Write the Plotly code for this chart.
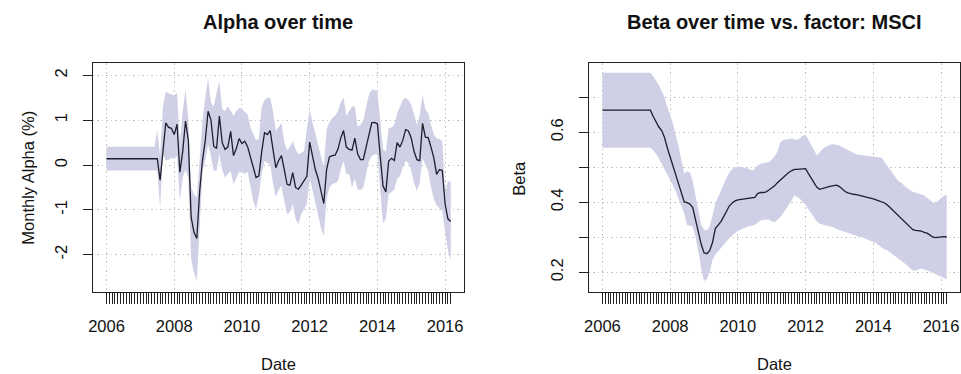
import numpy as np
import plotly.graph_objects as go

# Monthly observations, Jan 2006 .. Mar 2016 (rows are calendar years)
alpha = [
    0.14, 0.14, 0.14, 0.14, 0.14, 0.14, 0.14, 0.14, 0.14, 0.14, 0.14, 0.14,
    0.14, 0.14, 0.14, 0.14, 0.14, 0.14, 0.14, -0.34, 0.35, 0.94, 0.84, 0.82,
    0.68, 0.91, -0.16, 0.30, 0.98, 0.55, -1.17, -1.50, -1.64, -0.60, 0.10, 0.55,
    1.20, 1.01, 0.42, 0.37, 1.09, 0.50, 0.35, 0.40, 0.75, 0.21, 0.37, 0.59,
    0.48, 0.53, 0.41, 0.20, -0.05, -0.28, -0.24, 0.30, 0.72, 0.68, 0.77, 0.35,
    -0.06, 0.10, 0.21, -0.10, -0.43, -0.45, -0.17, -0.50, -0.54, -0.45, -0.35, -0.25,
    0.51, 0.20, -0.10, -0.30, -0.60, -0.86, -0.10, 0.18, 0.21, 0.22, 0.35, 0.60,
    0.77, 0.40, 0.35, 0.33, 0.60, 0.25, 0.12, 0.12, 0.40, 0.66, 0.94, 0.95,
    0.92, 0.20, -0.47, -0.60, 0.09, 0.15, 0.10, 0.50, 0.40, 0.55, 0.79, 0.76,
    0.60, 0.30, 0.12, 0.10, 0.93, 0.62, 0.61, 0.40, 0.16, -0.21, -0.10, -0.12,
    -0.87, -1.20, -1.26,
]
alpha_upper = [
    0.41, 0.41, 0.41, 0.41, 0.41, 0.41, 0.41, 0.41, 0.41, 0.41, 0.41, 0.41,
    0.41, 0.41, 0.41, 0.41, 0.41, 0.41, 0.78, 0.20, 1.30, 1.64, 1.60, 1.58,
    1.55, 1.62, 0.50, 1.20, 1.68, 1.00, -0.50, -0.65, -0.72, 0.10, 1.00, 1.50,
    1.94, 1.40, 1.30, 1.60, 1.87, 1.25, 1.20, 1.31, 1.20, 1.10, 1.20, 1.27,
    1.25, 1.20, 1.13, 0.85, 0.70, 0.55, 0.60, 1.30, 1.45, 1.50, 1.50, 1.20,
    0.76, 0.85, 0.94, 0.50, 0.33, 0.40, 0.53, 0.35, 0.24, 0.27, 0.31, 0.80,
    1.24, 0.95, 0.70, 0.46, 0.20, -0.05, 0.80, 0.95, 1.05, 1.10, 1.20, 1.40,
    1.50, 1.10, 1.20, 1.30, 1.31, 0.85, 0.90, 0.98, 1.30, 1.57, 1.68, 1.68,
    1.64, 0.90, 0.35, 0.30, 0.83, 0.83, 0.90, 1.15, 1.30, 1.45, 1.50, 1.45,
    1.35, 1.10, 0.90, 1.10, 1.57, 1.25, 1.15, 0.90, 0.68, 0.60, 0.58, 0.53,
    -0.60, -0.35, -0.39,
]
alpha_lower = [
    -0.12, -0.12, -0.12, -0.12, -0.12, -0.12, -0.12, -0.12, -0.12, -0.12, -0.12, -0.12,
    -0.12, -0.12, -0.12, -0.12, -0.12, -0.12, -0.12, -0.95, 0.24, 0.10, 0.12, 0.16,
    0.15, 0.20, -0.80, -0.28, -0.10, -0.30, -2.10, -2.40, -2.58, -1.40, -0.15, 0.10,
    0.46, 0.20, -0.13, -0.13, 0.24, -0.10, -0.28, -0.20, -0.13, -0.43, -0.30, -0.15,
    -0.15, -0.20, -0.15, -0.50, -0.80, -0.98, -0.65, -0.20, 0.09, 0.05, 0.01, -0.40,
    -0.72, -0.55, -0.47, -0.80, -1.10, -1.05, -0.87, -1.20, -1.32, -1.10, -1.00, -0.87,
    -0.28, -0.55, -0.80, -1.10, -1.40, -1.58, -0.75, -0.50, -0.43, -0.40, -0.36, -0.10,
    0.09, -0.20, -0.20, -0.50, -0.30, -0.55, -0.55, -0.50, -0.20, 0.09, 0.20, 0.24,
    0.24, -0.60, -1.30, -1.20, -0.65, -0.60, -0.55, -0.30, -0.25, -0.05, 0.09, 0.05,
    -0.13, -0.40, -0.58, -0.40, 0.16, 0.00, -0.13, -0.50, -0.75, -0.90, -0.95, -1.02,
    -1.50, -1.90, -2.13,
]

beta = [
    0.663, 0.663, 0.663, 0.663, 0.663, 0.663, 0.663, 0.663, 0.663, 0.663, 0.663, 0.663,
    0.663, 0.663, 0.663, 0.663, 0.663, 0.663, 0.645, 0.628, 0.615, 0.605, 0.585, 0.555,
    0.530, 0.505, 0.482, 0.455, 0.430, 0.401, 0.399, 0.395, 0.385, 0.350, 0.310, 0.280,
    0.256, 0.253, 0.262, 0.285, 0.325, 0.335, 0.345, 0.360, 0.375, 0.390, 0.398, 0.404,
    0.407, 0.408, 0.409, 0.410, 0.410, 0.412, 0.414, 0.425, 0.428, 0.428, 0.430, 0.435,
    0.440, 0.447, 0.456, 0.464, 0.472, 0.479, 0.485, 0.490, 0.494, 0.494, 0.495, 0.495,
    0.496, 0.482, 0.469, 0.455, 0.443, 0.437, 0.440, 0.443, 0.444, 0.446, 0.448, 0.449,
    0.445, 0.438, 0.431, 0.427, 0.424, 0.423, 0.422, 0.420, 0.419, 0.418, 0.415, 0.412,
    0.410, 0.407, 0.404, 0.401, 0.398, 0.392, 0.384, 0.376, 0.368, 0.360, 0.352, 0.343,
    0.335, 0.327, 0.322, 0.320, 0.320, 0.318, 0.314, 0.312, 0.307, 0.301, 0.299, 0.300,
    0.303, 0.302, 0.301,
]
beta_upper = [
    0.770, 0.770, 0.770, 0.770, 0.770, 0.770, 0.770, 0.770, 0.770, 0.770, 0.770, 0.770,
    0.770, 0.770, 0.770, 0.770, 0.770, 0.770, 0.760, 0.749, 0.735, 0.718, 0.700, 0.672,
    0.650, 0.625, 0.590, 0.560, 0.520, 0.482, 0.488, 0.485, 0.460, 0.415, 0.370, 0.335,
    0.322, 0.320, 0.330, 0.365, 0.395, 0.415, 0.435, 0.455, 0.470, 0.485, 0.495, 0.500,
    0.502, 0.501, 0.500, 0.498, 0.495, 0.490, 0.495, 0.505, 0.510, 0.512, 0.513, 0.515,
    0.522, 0.530, 0.545, 0.570, 0.578, 0.580, 0.582, 0.582, 0.580, 0.578, 0.583, 0.590,
    0.594, 0.580, 0.563, 0.548, 0.534, 0.542, 0.552, 0.558, 0.562, 0.565, 0.566, 0.565,
    0.562, 0.557, 0.553, 0.548, 0.543, 0.539, 0.537, 0.536, 0.535, 0.534, 0.532, 0.531,
    0.529, 0.528, 0.527, 0.527, 0.515, 0.503, 0.491, 0.480, 0.470, 0.460, 0.455, 0.447,
    0.440, 0.435, 0.430, 0.428, 0.425, 0.422, 0.420, 0.413, 0.405, 0.400, 0.398, 0.405,
    0.410, 0.418, 0.422,
]
beta_lower = [
    0.556, 0.556, 0.556, 0.556, 0.556, 0.556, 0.556, 0.556, 0.556, 0.556, 0.556, 0.556,
    0.556, 0.556, 0.556, 0.556, 0.556, 0.556, 0.548, 0.539, 0.525, 0.510, 0.496, 0.480,
    0.465, 0.449, 0.430, 0.410, 0.390, 0.368, 0.335, 0.334, 0.330, 0.300, 0.260, 0.210,
    0.175, 0.180, 0.200, 0.235, 0.250, 0.260, 0.270, 0.280, 0.290, 0.298, 0.305, 0.312,
    0.318, 0.322, 0.326, 0.330, 0.332, 0.333, 0.335, 0.342, 0.348, 0.350, 0.350, 0.351,
    0.345, 0.344, 0.350, 0.357, 0.368, 0.380, 0.390, 0.405, 0.420, 0.415, 0.410, 0.400,
    0.393, 0.380, 0.368, 0.357, 0.345, 0.339, 0.337, 0.335, 0.334, 0.331, 0.328, 0.324,
    0.320, 0.318, 0.315, 0.312, 0.309, 0.306, 0.304, 0.302, 0.300, 0.297, 0.294, 0.290,
    0.287, 0.283, 0.277, 0.270, 0.265, 0.263, 0.257, 0.250, 0.244, 0.238, 0.234, 0.228,
    0.220, 0.212, 0.205, 0.205, 0.208, 0.211, 0.208, 0.205, 0.204, 0.200, 0.195, 0.191,
    0.188, 0.184, 0.180,
]

year_labels = ["2006", "2008", "2010", "2012", "2014", "2016"]
alpha_ticks = ["-2", "-1", "0", "1", "2"]
beta_ticks = ["0.2", "", "0.4", "", "0.6", ""]

# decimal-year time index, one entry per month
t = 2006 + np.arange(len(alpha)) / 12.0
year_vals = [float(y) for y in year_labels]

FONT = "Liberation Sans, Arial, Helvetica, sans-serif"
BAND = "#cfcfe6"
LINE = "#1e1e2c"
GRID = "#c4c4c4"
GRID_DASH = "1.5px,3px"
AXC = "#222222"

fig = go.Figure()


def add_panel(xa, ya, mid, hi, lo):
    fig.add_trace(go.Scatter(x=t, y=hi, mode="lines", line=dict(width=0, color=BAND),
                             xaxis=xa, yaxis=ya, showlegend=False, hoverinfo="skip"))
    fig.add_trace(go.Scatter(x=t, y=lo, mode="lines", line=dict(width=0, color=BAND),
                             fill="tonexty", fillcolor=BAND,
                             xaxis=xa, yaxis=ya, showlegend=False, hoverinfo="skip"))
    fig.add_trace(go.Scatter(x=t, y=mid, mode="lines", line=dict(width=1.3, color=LINE),
                             xaxis=xa, yaxis=ya, showlegend=False))


add_panel("x", "y", alpha, alpha_upper, alpha_lower)
add_panel("x2", "y2", beta, beta_upper, beta_lower)

ydom = [1 - 292.3 / 374, 1 - 63.3 / 374]
tickfont = dict(family=FONT, size=16.5, color="#111111")


def xaxis_cfg(dom, anchor):
    return dict(
        domain=dom, anchor=anchor, range=[2005.59, 2016.56],
        tickmode="array", tickvals=year_vals, ticktext=year_labels,
        ticks="outside", ticklen=11, tickwidth=1, tickcolor=AXC,
        ticklabelstandoff=8, tickfont=tickfont,
        showline=True, mirror=True, linecolor=AXC, linewidth=1,
        showgrid=True, gridcolor=GRID, griddash=GRID_DASH, gridwidth=1,
        zeroline=False,
        minor=dict(tickmode="array", tickvals=list(t), ticks="outside", ticklen=11,
                   tickwidth=1, tickcolor=AXC, showgrid=False),
    )


def yaxis_cfg(rng, vals, text, anchor):
    return dict(
        domain=ydom, anchor=anchor, range=rng,
        tickmode="array", tickvals=vals, ticktext=text, tickangle=-90,
        ticks="outside", ticklen=9, tickwidth=1, tickcolor=AXC,
        ticklabelstandoff=9, tickfont=tickfont,
        showline=True, mirror=True, linecolor=AXC, linewidth=1,
        showgrid=True, gridcolor=GRID, griddash=GRID_DASH, gridwidth=1,
        zeroline=False,
    )


fig.update_layout(
    width=961, height=374,
    margin=dict(l=0, r=0, t=0, b=0),
    paper_bgcolor="white", plot_bgcolor="white",
    font=dict(family=FONT, color="#111111"),
    xaxis=xaxis_cfg([89 / 961, 462 / 961], "y"),
    yaxis=yaxis_cfg([-2.84, 2.27], [-2, -1, 0, 1, 2], alpha_ticks, "x"),
    xaxis2=xaxis_cfg([587 / 961, 960 / 961], "y2"),
    yaxis2=yaxis_cfg([0.143, 0.797], [0.2, 0.3, 0.4, 0.5, 0.6, 0.7], beta_ticks, "x2"),
)

title_font = dict(family=FONT, size=20, color="#111111")
label_font = dict(family=FONT, size=16.5, color="#111111")
annotations = [
    dict(text="<b>Alpha over time</b>", x=275.5 / 961, y=1 - 22 / 374, yanchor="middle", font=title_font),
    dict(text="<b>Beta over time vs. factor: MSCI</b>", x=774 / 961, y=1 - 22 / 374, yanchor="middle", font=title_font),
    dict(text="Date", x=276 / 961, y=0, yanchor="bottom", font=label_font),
    dict(text="Date", x=774 / 961, y=0, yanchor="bottom", font=label_font),
    dict(text="Monthly Alpha (%)", x=24 / 961, y=1 - 177.8 / 374, yanchor="middle", textangle=-90, font=label_font),
    dict(text="Beta", x=517 / 961, y=1 - 177.8 / 374, yanchor="middle", textangle=-90, font=label_font),
]
for a in annotations:
    fig.add_annotation(xref="paper", yref="paper", showarrow=False,
                       xanchor="center", borderpad=0, **a)

fig.write_html("out.html")
